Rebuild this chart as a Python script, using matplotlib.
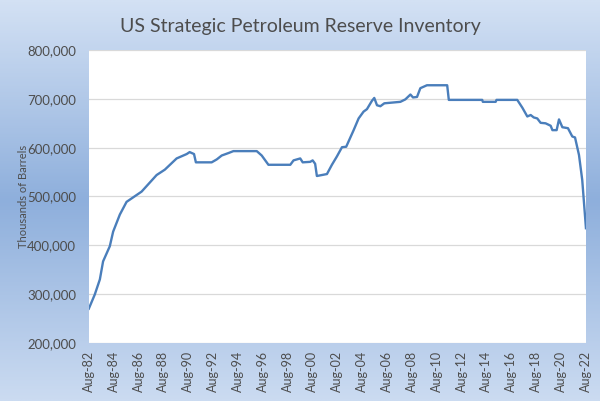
"""US Strategic Petroleum Reserve inventory chart"""

import numpy as np
import matplotlib
matplotlib.use('Agg')
import matplotlib.pyplot as plt
from matplotlib.colors import LinearSegmentedColormap

TITLE = 'US Strategic Petroleum Reserve Inventory'

# decimal year, thousands of barrels
years = [1982.58, 1983.06, 1983.47, 1983.73, 1984.27, 1984.54, 1985.08, 1985.62,
         1986.83, 1988.04, 1988.70, 1989.65, 1990.46, 1990.70, 1991.05, 1991.20,
         1992.47, 1992.88, 1993.28, 1993.82, 1994.22, 1996.10, 1996.50, 1997.04,
         1998.80, 1999.06, 1999.60, 1999.80, 2000.40, 2000.60, 2000.80, 2000.94,
         2001.75, 2002.15, 2002.55, 2002.96, 2003.30, 2003.90, 2004.30, 2004.70,
         2004.97, 2005.37, 2005.56, 2005.78, 2006.05, 2006.37, 2007.66, 2008.06,
         2008.47, 2008.68, 2009.00, 2009.27, 2009.80, 2011.43, 2011.56, 2013.04,
         2014.25, 2014.30, 2015.33, 2015.40, 2017.07, 2017.48, 2017.88, 2018.15,
         2018.40, 2018.68, 2018.95, 2019.35, 2019.76, 2019.90, 2020.24, 2020.43,
         2020.70, 2021.15, 2021.50, 2021.72, 2022.04, 2022.30, 2022.60]
inventory = [270, 299, 330, 367, 398, 428, 463, 489,
             510, 544, 555, 578, 587, 591, 587, 570,
             570, 576, 584, 589, 593, 593, 584, 565,
             565, 574, 578, 570, 571, 574, 567, 542,
             546, 565, 582, 601, 602, 636, 660, 674,
             679, 696, 702, 687, 685, 691, 694, 699,
             709, 703, 704, 722, 728, 728, 698, 698,
             698, 694, 694, 698, 698, 682, 664, 667,
             662, 660, 651, 650, 645, 636, 636, 658,
             642, 640, 623, 621, 585, 534, 435]

tick_years = list(range(1982, 2023, 2))
tick_labels = [f"Aug-{y % 100:02d}" for y in tick_years]
y_ticks = [200000, 300000, 400000, 500000, 600000, 700000, 800000]

TEXT = '#4d4d4d'
LINE = '#4a7ebb'


def gradient_background(fig):
    """Excel style light blue gradient: light top and bottom, deeper blue mid-height"""
    bg = fig.add_axes([0, 0, 1, 1], zorder=-10)
    cmap = LinearSegmentedColormap.from_list(
        'bg', [(0.0, '#d3e1f4'), (0.5, '#8eafdc'), (1.0, '#cbdbf1')])
    yy = np.linspace(0, 1, 300)[:, None] * np.ones((1, 10))
    bg.imshow(yy, cmap=cmap, aspect='auto', extent=[0, 1, 0, 1],
              origin='upper', vmin=0, vmax=1)
    bg.axis('off')


def main():
    plt.rcParams['font.family'] = ['Lato', 'DejaVu Sans']
    fig = plt.figure(figsize=(6, 4.01), dpi=100)
    gradient_background(fig)

    ax = fig.add_axes([0.148, 0.145, 0.829, 0.730])
    ax.set_facecolor('white')
    ax.plot(years, np.array(inventory) * 1000, color=LINE, lw=1.7,
            solid_joinstyle='round')

    ax.set_xlim(1982.58, 2022.62)
    ax.set_ylim(200000, 800000)
    ax.set_yticks(y_ticks)
    ax.set_yticklabels([f"{v:,}" for v in y_ticks], color=TEXT, fontsize=9.5)
    ax.set_xticks([y + 0.58 for y in tick_years])
    ax.set_xticklabels(tick_labels, rotation=90, color=TEXT, fontsize=9)
    ax.tick_params(axis='y', length=0, pad=9)
    ax.tick_params(axis='x', length=0, pad=6)
    ax.grid(axis='y', color='#d9d9d9', lw=0.9)
    ax.set_axisbelow(True)
    for side in ax.spines.values():
        side.set_visible(False)
    ax.set_ylabel('Thousands of Barrels', color=TEXT, fontsize=8)
    ax.yaxis.set_label_coords(-0.12, 0.5)

    fig.text(0.5, 0.935, TITLE, ha='center', va='center', color=TEXT, fontsize=14)
    fig.savefig('out.png', dpi=100)


if __name__ == "__main__":
    main()
